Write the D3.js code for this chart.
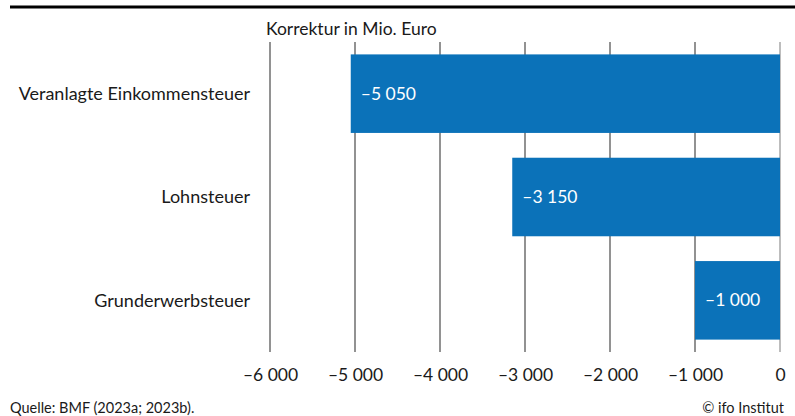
<!DOCTYPE html>
<html><head><meta charset="utf-8">
<script src="https://cdn.jsdelivr.net/npm/d3@7"></script>
<style>
html,body{margin:0;padding:0;background:#fff;}
text{font-family:Lato,"Noto Sans",sans-serif;}
</style></head>
<body>
<svg id="chart" width="795" height="416"></svg>
<script>
const categories = ["Veranlagte Einkommensteuer", "Lohnsteuer", "Grunderwerbsteuer"];
const values = [-5050, -3150, -1000];
const tickValues = [-6000, -5000, -4000, -3000, -2000, -1000, 0];
const axisTitle = "Korrektur in Mio. Euro";
const source = "Quelle: BMF (2023a; 2023b).";
const credit = "© ifo Institut";

const W = 795, H = 416;
const svg = d3.select("#chart");
const loc = d3.formatLocale({decimal: ",", thousands: "\u00a0", grouping: [3], currency: ["", ""], minus: "\u2013"});
const fmt = loc.format(",d");

const x = d3.scaleLinear().domain([-6000, 0]).range([270, 780]);
const y = d3.scaleBand().domain(categories).range([42, 352]).paddingInner(0.24).paddingOuter(0.12);

// top rule
svg.append("line").attr("x1", 10).attr("x2", W).attr("y1", 7).attr("y2", 7)
  .attr("stroke", "#000").attr("stroke-width", 3);

// gridlines
svg.append("g").selectAll("line").data(tickValues).join("line")
  .attr("x1", d => x(d)).attr("x2", d => x(d))
  .attr("y1", 42).attr("y2", 352)
  .attr("stroke", d => d === 0 ? "#bdbdbd" : "#6e6e6e")
  .attr("stroke-width", d => d === 0 ? 2 : 1.5);

// bars
svg.append("g").selectAll("rect").data(values).join("rect")
  .attr("x", d => x(d)).attr("width", d => x(0) - x(d))
  .attr("y", (d, i) => y(categories[i])).attr("height", y.bandwidth())
  .attr("fill", "#0b72b9");

// value labels
svg.append("g").selectAll("text").data(values).join("text")
  .attr("x", d => x(d) + 10)
  .attr("y", (d, i) => y(categories[i]) + y.bandwidth() / 2)
  .attr("dy", "0.35em")
  .attr("fill", "#fff").attr("font-size", 17.5)
  .text(d => fmt(d));

// category labels
svg.append("g").selectAll("text").data(categories).join("text")
  .attr("x", 250).attr("y", d => y(d) + y.bandwidth() / 2)
  .attr("dy", "0.35em").attr("text-anchor", "end")
  .attr("fill", "#1a1a1a").attr("font-size", 18)
  .text(d => d);

// x axis tick labels
const axis = d3.axisBottom(x).tickValues(tickValues).tickSize(0).tickFormat(d => fmt(d));
const gx = svg.append("g").attr("transform", "translate(0,366)").call(axis);
gx.select(".domain").remove();
gx.selectAll("text").attr("font-size", 17.5).attr("fill", "#1a1a1a")
  .attr("font-family", 'Lato,"Noto Sans",sans-serif');

// axis title
svg.append("text").attr("x", 266).attr("y", 35).attr("font-size", 17.5)
  .attr("fill", "#1a1a1a").text(axisTitle);

// footer
svg.append("text").attr("x", 10).attr("y", 413).attr("font-size", 14.5)
  .attr("fill", "#1a1a1a").text(source);
svg.append("text").attr("x", 784).attr("y", 413).attr("font-size", 14.5)
  .attr("text-anchor", "end").attr("fill", "#1a1a1a").text(credit);
</script>
</body></html>
